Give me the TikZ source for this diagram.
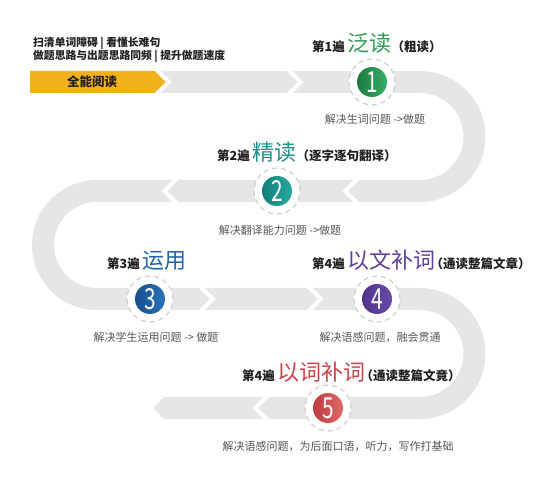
\documentclass[tikz,border=0pt]{standalone}
\usepackage{fontspec}
\setmainfont{Noto Sans CJK SC}
\newfontfamily\numfont{Noto Sans CJK SC}[FakeStretch=0.72]
\usetikzlibrary{positioning}
\definecolor{trackgray}{HTML}{E6E6E6}
\definecolor{yellowc}{HTML}{F0B11B}
\definecolor{ringgray}{HTML}{CFCFCF}
\definecolor{labelblack}{HTML}{231F20}
\definecolor{notegray}{HTML}{555555}
\definecolor{wgreen}{HTML}{2E9A57}
\definecolor{wteal}{HTML}{1E8E8A}
\definecolor{wblue}{HTML}{2163A8}
\definecolor{wpurple}{HTML}{5E3F9B}
\definecolor{wred}{HTML}{C9434B}
\definecolor{green1}{HTML}{1B7A3E}
\definecolor{green2}{HTML}{38AD68}
\definecolor{teal1}{HTML}{137F7A}
\definecolor{teal2}{HTML}{27A9A0}
\definecolor{blue1}{HTML}{174E8C}
\definecolor{blue2}{HTML}{2A74B8}
\definecolor{purple1}{HTML}{4E338C}
\definecolor{purple2}{HTML}{6A4CA8}
\definecolor{red1}{HTML}{BF3A40}
\definecolor{red2}{HTML}{DE6A6A}
\tikzset{
  track/.style={trackgray, line width=22pt},
  gapline/.style={white, line width=4pt},
  ring/.style={circle, draw=ringgray, dash pattern=on 5pt off 4pt, line width=1.2pt,
    fill=white, minimum size=46pt, inner sep=0pt},
  disc/.style={circle, minimum size=30pt, inner sep=0pt, text=white,
    font=\numfont\fontsize{29}{29}\selectfont},
  title/.style={anchor=base west, inner sep=0pt, text=labelblack,
    font=\bfseries\fontsize{12.5}{14}\selectfont},
  note/.style={inner sep=0pt, text=notegray, font=\fontsize{11}{13}\selectfont},
  intro/.style={anchor=west, inner sep=0pt, text=labelblack,
    font=\bfseries\fontsize{10.8}{12}\selectfont},
}
\newcommand\bigword[2]{{\color{#1}\mdseries\fontsize{22}{22}\selectfont #2}}
\begin{document}
\begin{tikzpicture}[x=1pt,y=-1pt]
  \useasboundingbox (0,0) rectangle (560,497);
  % the winding road
  \draw[track] (155,82) -- (420,82) arc (-90:90:54.5) -- (97,191)
    arc (-90:-270:54) -- (420,299) arc (-90:90:54.5) -- (164,408);
  \fill[trackgray] (164.5,397) -- (153,408) -- (164.5,419) -- cycle;
  \fill[yellowc] (30,71) -- (155,71) -- (166,82) -- (155,93) -- (30,93) -- cycle;
  \foreach \tx/\ty/\d in {166/82/1, 298/82/1, 348/191/-1, 167/191/-1,
                          210/299/1, 318/299/1, 258/408/-1}
    \draw[gapline] ({\tx+\d*2.8-\d*13},{\ty-13}) -- ({\tx+\d*2.8},\ty)
      -- ({\tx+\d*2.8-\d*13},{\ty+13});
  \node[inner sep=0pt, text=labelblack, font=\bfseries\fontsize{12.5}{14}\selectfont]
    (start) at (92,82) {全能阅读};

  % intro lines
  \node[intro] (i1) at (33,43) {扫清单词障碍 | 看懂长难句};
  \node[intro] (i2) at (33,56) {做题思路与出题思路同频 | 提升做题速度};

  % the five passes
  \foreach \n/\cx/\cy/\ca/\cb in {1/372/82/green1/green2, 2/277/191/teal1/teal2,
      3/150/299/blue1/blue2, 4/377/299/purple1/purple2, 5/328/408/red1/red2} {
    \node[ring] (r\n) at (\cx,\cy) {};
    \node[disc, left color=\ca, right color=\cb] (c\n) at (\cx,\cy) {\n};
  }

  \node[title] (t1) at (312,52) {第1遍 \bigword{wgreen}{泛读}（粗读）};
  \node[title] (t2) at (217,161) {第2遍 \bigword{wteal}{精读}（逐字逐句翻译）};
  \node[title] (t3) at (107,269) {第3遍 \bigword{wblue}{运用}};
  \node[title] (t4) at (312,269)
    {第4遍 \bigword{wpurple}{以文补词}\hspace{-5pt}（通读整篇文章）};
  \node[title] (t5) at (242,380)
    {第4遍 \bigword{wred}{以词补词}\hspace{-5pt}（通读整篇文竟）};

  \node[note] (n1) at (375,119) {解决生词问题 ->做题};
  \node[note] (n2) at (280,230) {解决翻译能力问题 ->做题};
  \node[note] (n3) at (156,337) {解决学生运用问题 -> 做题};
  \node[note] (n4) at (380,337) {解决语感问题，融会贯通};
  \node[note] (n5) at (338,446) {解决语感问题，为后面口语，听力，写作打基础};
\end{tikzpicture}
\end{document}
